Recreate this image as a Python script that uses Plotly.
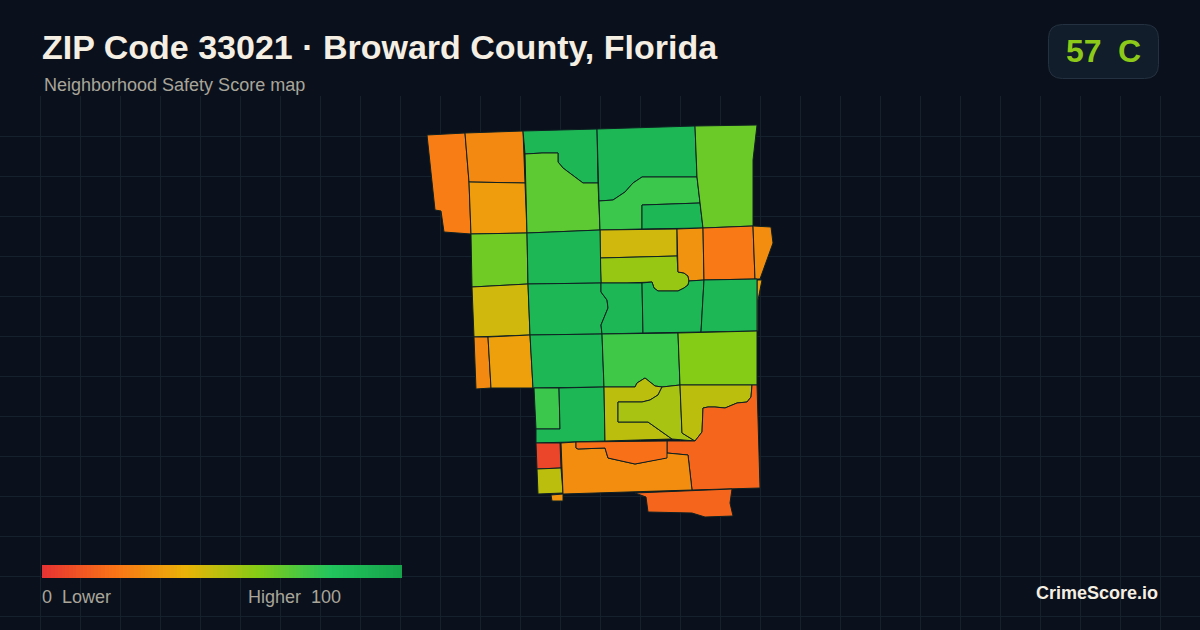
import plotly.graph_objects as go
from plotly.colors import sample_colorscale

# ── colours ─────────────────────────────────────────────────────────────────
BG = "#0a111c"
GRID = "#15212c"
EDGE = "#0e2022"
CREAM = "#f5eee3"
MUTED = "#a9a59a"
BADGE_GREEN = "#8cc919"

SCORE_SCALE = [
    [0.0, "#e63232"],
    [0.2, "#f97316"],
    [0.4, "#eab308"],
    [0.6, "#84cc16"],
    [0.8, "#22c55e"],
    [1.0, "#16a34a"],
]

W, H = 1200, 630

# ── block outlines, in map units ────────────────────────────────────────────
NW_WEST = [(427, 135), (465, 133), (469, 182), (471, 234), (444, 232), (441, 211), (435, 210)]
NW_TOP = [(465, 133), (523, 131), (525, 183), (469, 182)]
NW_LOW = [(469, 182), (525, 183), (527, 233), (471, 234)]
N_GREEN = [(523, 131), (597, 129), (598, 183), (583, 183), (575, 177), (563, 168), (558, 162),
           (558, 153), (542, 153), (525, 154)]
N_LIME = [(525, 154), (542, 153), (558, 153), (558, 162), (563, 168), (575, 177), (583, 183),
          (598, 183), (600, 230), (527, 233)]
NC_GREEN = [(597, 129), (695, 126), (697, 177), (658, 177), (642, 177), (633, 183), (625, 192),
            (613, 200), (599, 201)]
NC_LIGHT = [(599, 201), (613, 200), (625, 192), (633, 183), (642, 177), (658, 177), (697, 177),
            (700, 203), (642, 205), (642, 229), (600, 230)]
NC_BOX = [(642, 205), (700, 203), (703, 228), (642, 229)]
NE_LIME = [(695, 126), (757, 125), (753, 160), (753, 226), (703, 228), (697, 177)]
C_YELLOW = [(600, 230), (677, 229), (677, 256), (600, 258)]
C_OLIVE = [(600, 258), (677, 256), (678, 272), (684, 273), (688, 276), (689, 281), (688, 285),
           (684, 288), (678, 291), (668, 291), (658, 291), (654, 288), (652, 282), (627, 283),
           (601, 283)]
E_ORANGE = [(677, 229), (703, 228), (704, 280), (689, 281), (688, 276), (684, 273), (678, 272)]
E_DEEP = [(703, 228), (753, 226), (755, 279), (704, 280)]
E_COAST = [(753, 226), (771, 227), (773, 243), (760, 279), (755, 279)]
E_STRIP = [(757, 280), (762, 280), (758, 300), (758, 331), (757, 331)]
W_LIME = [(471, 234), (527, 233), (528, 284), (472, 287)]
W_YELLOW = [(472, 287), (528, 284), (530, 335), (474, 337)]
W_SLIVER = [(474, 337), (488, 337), (491, 388), (476, 389)]
W_AMBER = [(488, 337), (530, 335), (533, 388), (491, 388)]
M_GREEN_1 = [(527, 233), (600, 230), (601, 283), (528, 284)]
M_GREEN_2 = [(528, 284), (601, 283), (601, 292), (607, 300), (608, 308), (601, 325), (602, 334),
             (530, 335)]
M_GREEN_3 = [(601, 283), (642, 283), (643, 333), (602, 334), (601, 325), (608, 308), (607, 300),
             (601, 292)]
M_GREEN_4 = [(642, 283), (652, 282), (654, 288), (658, 291), (668, 291), (678, 291), (684, 288),
             (688, 285), (689, 281), (704, 280), (701, 332), (643, 333)]
M_GREEN_5 = [(704, 280), (757, 279), (757, 331), (701, 332)]
S_GREEN = [(530, 335), (602, 334), (604, 387), (533, 388)]
S_LIGHT = [(602, 334), (678, 333), (680, 385), (662, 387), (655, 386), (645, 378), (637, 383),
           (635, 387), (604, 387)]
S_LIME = [(678, 333), (757, 331), (757, 385), (680, 385)]
SW_LIGHT = [(534, 388), (559, 388), (560, 429), (536, 429)]
SW_GREEN = [(559, 388), (604, 387), (605, 441), (536, 443), (536, 429), (560, 429)]
L_OUTER = [(604, 387), (635, 387), (637, 383), (645, 378), (655, 386), (662, 387), (658, 395),
           (650, 400), (642, 402), (618, 402), (618, 422), (648, 422), (662, 432), (672, 439),
           (605, 441)]
L_INNER = [(618, 402), (642, 402), (650, 400), (658, 395), (662, 387), (680, 385), (682, 433),
           (688, 437), (695, 441), (672, 439), (662, 432), (648, 422), (618, 422)]
SE_OLIVE = [(680, 385), (752, 385), (751, 397), (747, 402), (737, 403), (725, 408), (715, 407),
            (708, 407), (703, 408), (702, 432), (695, 441), (688, 437), (682, 433)]
SE_DEEP = [(752, 385), (757, 385), (760, 488), (692, 490), (688, 455), (667, 453), (667, 441),
           (695, 441), (702, 432), (703, 408), (708, 407), (715, 407), (725, 408), (737, 403),
           (747, 402), (751, 397)]
B_RED = [(536, 443), (560, 443), (561, 468), (537, 469)]
B_OLIVE = [(537, 469), (561, 468), (563, 493), (538, 494)]
B_DOT = [(551, 495), (563, 494), (563, 501), (552, 501)]
B_ORANGE = [(561, 443), (576, 442), (576, 448), (578, 449), (605, 448), (608, 458), (635, 464),
            (665, 458), (667, 453), (688, 455), (692, 490), (563, 494)]
B_DEEP = [(576, 442), (667, 441), (667, 458), (635, 464), (608, 458), (605, 448), (578, 449),
          (576, 448)]
B_SOUTH = [(635, 493), (732, 489), (730, 503), (733, 516), (705, 517), (692, 513), (648, 512),
           (646, 497)]

BLOCKS = [
    NW_WEST, NW_TOP, NW_LOW, N_GREEN, N_LIME, NC_GREEN, NC_LIGHT, NC_BOX, NE_LIME, C_YELLOW,
    C_OLIVE, E_ORANGE, E_DEEP, E_COAST, E_STRIP, W_LIME, W_YELLOW, W_SLIVER, W_AMBER,
    M_GREEN_1, M_GREEN_2, M_GREEN_3, M_GREEN_4, M_GREEN_5, S_GREEN, S_LIGHT, S_LIME,
    SW_LIGHT, SW_GREEN, L_OUTER, L_INNER, SE_OLIVE, SE_DEEP, B_RED, B_OLIVE, B_DOT, B_ORANGE,
    B_DEEP, B_SOUTH,
]
SCORES = [
    23, 27, 33, 88, 68, 88, 75, 88, 65, 45,
    56, 30, 22, 28, 34, 64, 45, 27, 34,
    88, 88, 88, 88, 88, 88, 74, 60,
    75, 88, 49, 53, 49, 16, 6, 49, 30, 28,
    19, 16,
]
LEGEND_VALUES = list(range(0, 101))


def px(x):
    return x / W


def py(y):
    return 1 - y / H


def rounded_box(x0, y0, x1, y1, r):
    """SVG path of a rounded box in paper coordinates."""
    return (
        f"M {px(x0 + r)} {py(y0)} L {px(x1 - r)} {py(y0)} Q {px(x1)} {py(y0)} {px(x1)} {py(y0 + r)} "
        f"L {px(x1)} {py(y1 - r)} Q {px(x1)} {py(y1)} {px(x1 - r)} {py(y1)} "
        f"L {px(x0 + r)} {py(y1)} Q {px(x0)} {py(y1)} {px(x0)} {py(y1 - r)} "
        f"L {px(x0)} {py(y0 + r)} Q {px(x0)} {py(y0)} {px(x0 + r)} {py(y0)} Z"
    )


def label(x, y, text, size, color, anchor="left", bold=False):
    return dict(
        x=px(x), y=py(y), xref="paper", yref="paper",
        xanchor=anchor, yanchor="middle", showarrow=False, text=f"<b>{text}</b>" if bold else text,
        font=dict(family="Liberation Sans, Arial, sans-serif", size=size, color=color),
    )


fig = go.Figure()

for block, score in zip(BLOCKS, SCORES):
    fig.add_trace(go.Scatter(
        x=[p[0] for p in block] + [block[0][0]],
        y=[p[1] for p in block] + [block[0][1]],
        mode="lines", fill="toself",
        fillcolor=sample_colorscale(SCORE_SCALE, score / 100, colortype="rgb")[0],
        line=dict(color=EDGE, width=1),
        name=str(score), showlegend=False,
    ))

fig.add_trace(go.Heatmap(
    z=[LEGEND_VALUES], x=LEGEND_VALUES, y=[0],
    colorscale=SCORE_SCALE, zmin=0, zmax=100,
    showscale=False, xaxis="x2", yaxis="y2",
))

fig.update_layout(
    width=W, height=H,
    margin=dict(l=0, r=0, t=0, b=0),
    paper_bgcolor=BG, plot_bgcolor=BG,
    showlegend=False,
    xaxis=dict(range=[0, W], domain=[0, 1], tick0=0, dtick=40, showgrid=True, gridcolor=GRID,
               gridwidth=1, zeroline=False, showticklabels=False, ticks=""),
    yaxis=dict(range=[H, 96], domain=[0, py(96)], tick0=96, dtick=40, showgrid=True, gridcolor=GRID,
               gridwidth=1, zeroline=False, showticklabels=False, ticks=""),
    xaxis2=dict(range=[0, 100], domain=[px(42), px(402)], anchor="y2", visible=False),
    yaxis2=dict(range=[-0.5, 0.5], domain=[py(578), py(565)], anchor="x2", visible=False),
    shapes=[dict(
        type="path", path=rounded_box(1048.5, 24.5, 1158.5, 78.5, 14),
        xref="paper", yref="paper",
        fillcolor="#111d2a", line=dict(color="#243140", width=1),
    )],
    annotations=[
        label(40, 47, "ZIP Code 33021 · Broward County, Florida", 34, CREAM, bold=True),
        label(42, 85, "Neighborhood Safety Score map", 18, MUTED),
        label(1064, 51, "57", 32, BADGE_GREEN, bold=True),
        label(1116, 51, "C", 32, BADGE_GREEN, bold=True),
        label(40, 597, "0\u00a0\u00a0Lower", 18, MUTED),
        label(343, 597, "Higher\u00a0\u00a0100", 18, MUTED, anchor="right"),
        label(1160, 593, "CrimeScore.io", 18, CREAM, anchor="right", bold=True),
    ],
)

# the page's default body margin would push the figure off the 1200x630 window
fig.write_html(
    "out.html",
    config={"displayModeBar": False},
    post_script="document.body.style.margin='0';document.body.style.overflow='hidden';"
                "document.body.style.background='#0a111c';",
)
